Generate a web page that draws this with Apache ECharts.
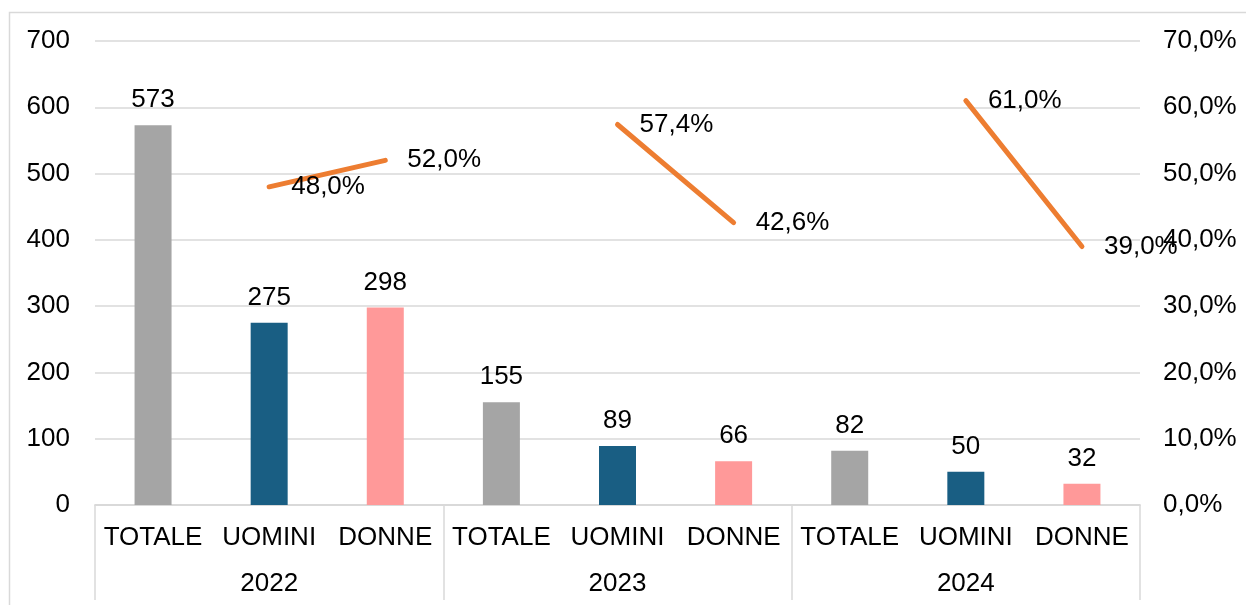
<!DOCTYPE html>
<html>
<head>
<meta charset="utf-8">
<script src="https://cdn.jsdelivr.net/npm/echarts@6/dist/echarts.min.js"></script>
<style>
    html, body { margin: 0; padding: 0; background: #fff; }
    #chart { width: 1246px; height: 605px; }
</style>
</head>
<body>
<div id="chart"></div>
<script>
// dati
const years = ['2022', '2023', '2024'];
const groups = ['TOTALE', 'UOMINI', 'DONNE'];
const counts = [573, 275, 298, 155, 89, 66, 82, 50, 32];
// quota percentuale (solo uomini/donne), null = interruzione della linea
const shares = [null, 48.0, 52.0, null, 57.4, 42.6, null, 61.0, 39.0];

const groupColors = { TOTALE: '#A5A5A5', UOMINI: '#195E83', DONNE: '#FF9999' };
const font = 'Liberation Sans, Arial, sans-serif';

let categories = [];
let barData = [];
years.forEach((y, yi) => {
    groups.forEach((g, gi) => {
        let idx = yi * groups.length + gi;
        categories.push(g);
        barData.push({ value: counts[idx], itemStyle: { color: groupColors[g] } });
    });
});

function pct(v) {
    return v.toFixed(1).replace('.', ',') + '%';
}

const chart = echarts.init(document.getElementById('chart'));
const option = {
    animation: false,
    textStyle: { fontFamily: font },
    graphic: [{
        type: 'rect',
        silent: true,
        shape: { x: 9.5, y: 12.5, width: 1260, height: 620 },
        style: { fill: 'none', stroke: '#d9d9d9', lineWidth: 1.5 }
    }],
    grid: { left: 95, right: 106, top: 41, bottom: 100, containLabel: false },
    xAxis: [
        {
            type: 'category',
            data: categories,
            axisLine: { show: true, lineStyle: { color: '#d9d9d9', width: 1.5 } },
            axisTick: { show: false },
            axisLabel: { color: '#000', fontSize: 26, margin: 20, interval: 0, fontFamily: font }
        },
        {
            type: 'category',
            data: years,
            position: 'bottom',
            axisLine: { show: true, lineStyle: { color: '#d9d9d9', width: 1.5 } },
            axisTick: { show: true, length: 95, lineStyle: { color: '#d9d9d9', width: 1.5 } },
            axisLabel: { color: '#000', fontSize: 26, margin: 66, fontFamily: font }
        }
    ],
    yAxis: [
        {
            type: 'value',
            min: 0, max: 700, interval: 100,
            axisLine: { show: false },
            axisTick: { show: false },
            splitLine: { lineStyle: { color: '#d9d9d9', width: 1.5 } },
            axisLabel: { color: '#000', fontSize: 26, margin: 25, fontFamily: font }
        },
        {
            type: 'value',
            min: 0, max: 70, interval: 10,
            axisLine: { show: false },
            axisTick: { show: false },
            splitLine: { show: false },
            axisLabel: { color: '#000', fontSize: 26, margin: 23, fontFamily: font, formatter: pct }
        }
    ],
    series: [
        {
            type: 'bar',
            data: barData,
            barWidth: 37,
            xAxisIndex: 0,
            yAxisIndex: 0,
            label: { show: true, position: 'top', distance: 12, color: '#000', fontSize: 26, fontFamily: font }
        },
        {
            type: 'line',
            data: shares,
            xAxisIndex: 0,
            yAxisIndex: 1,
            connectNulls: false,
            showSymbol: true,
            symbol: 'circle',
            symbolSize: 0.1,
            lineStyle: { color: '#ED7D31', width: 5, cap: 'round' },
            itemStyle: { color: 'rgba(0,0,0,0)' },
            label: {
                show: true, position: 'right', distance: 22,
                color: '#000', fontSize: 26, fontFamily: font,
                formatter: p => pct(p.value)
            }
        }
    ]
};
chart.setOption(option);
</script>
</body>
</html>
